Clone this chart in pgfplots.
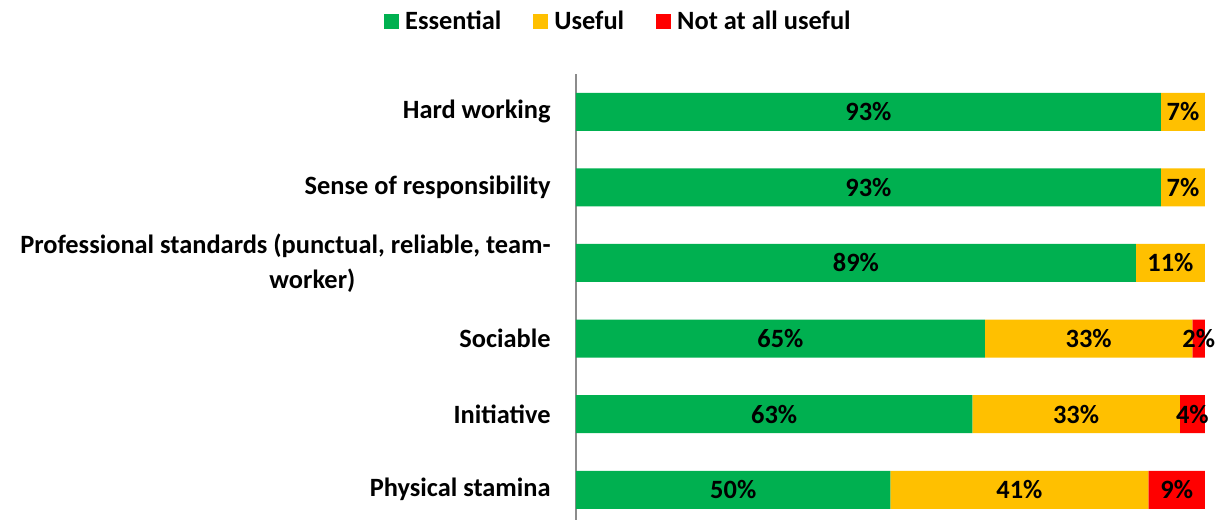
\documentclass[border=0pt]{standalone}
\usepackage{pgfplots}
\pgfplotsset{compat=1.18}
\usepackage{fontspec}
\setmainfont{Carlito}
\definecolor{cgreen}{HTML}{00B050}
\definecolor{cyellow}{HTML}{FFC000}
\definecolor{cred}{HTML}{FF0000}
\definecolor{caxis}{HTML}{8C8C8C}
\begin{document}
\begin{tikzpicture}
\path[use as bounding box] (0,0) rectangle (608.5pt,260pt);
\begin{axis}[
  at={(288pt,0pt)}, anchor=south west,
  scale only axis, width=314.5pt, height=223pt,
  xbar stacked, bar width=19pt,
  xmin=0, xmax=100,
  ymin=-0.5, ymax=5.4, y dir=reverse,
  axis x line=none,
  axis y line*=left,
  y axis line style={draw=caxis, line width=0.8pt, -},
  ytick={0,1,2,3,4,5},
  yticklabels={Hard working, Sense of responsibility, {Professional standards (punctual, reliable, team-\\\hspace*{27pt}worker)}, Sociable, Initiative, Physical stamina},
  major tick length=0pt,
  yticklabel style={align=center, inner sep=0pt, xshift=-12.5pt, font=\fontsize{13.2pt}{17.5pt}\selectfont\bfseries},
  clip=false,
  /pgf/number format/assume math mode=true,
  nodes near coords={\pgfmathfloatifflags{\pgfplotspointmeta}{0}{}{\pgfmathprintnumber{\pgfplotspointmeta}\%}},
  every node near coord/.append style={font=\fontsize{13.2pt}{16pt}\selectfont\bfseries, text=black},
  legend columns=3,
  legend style={draw=none, at={(0.069,1.117)}, anchor=center, font=\fontsize{13.2pt}{16pt}\selectfont\bfseries,
    /tikz/every even column/.append style={column sep=14pt}, inner sep=0pt},
  legend image code/.code={\fill[#1] (0pt,-3.75pt) rectangle (7.5pt,3.75pt);\path (8.5pt,0pt);},
]
\addplot[fill=cgreen, draw=none] coordinates {(93,0) (93,1) (89,2) (65,3) (63,4) (50,5)};
\addplot[fill=cyellow, draw=none] coordinates {(7,0) (7,1) (11,2) (33,3) (33,4) (41,5)};
\addplot[fill=cred, draw=none] coordinates {(0,0) (0,1) (0,2) (2,3) (4,4) (9,5)};
\legend{Essential, Useful, Not at all useful}
\end{axis}
\end{tikzpicture}
\end{document}
